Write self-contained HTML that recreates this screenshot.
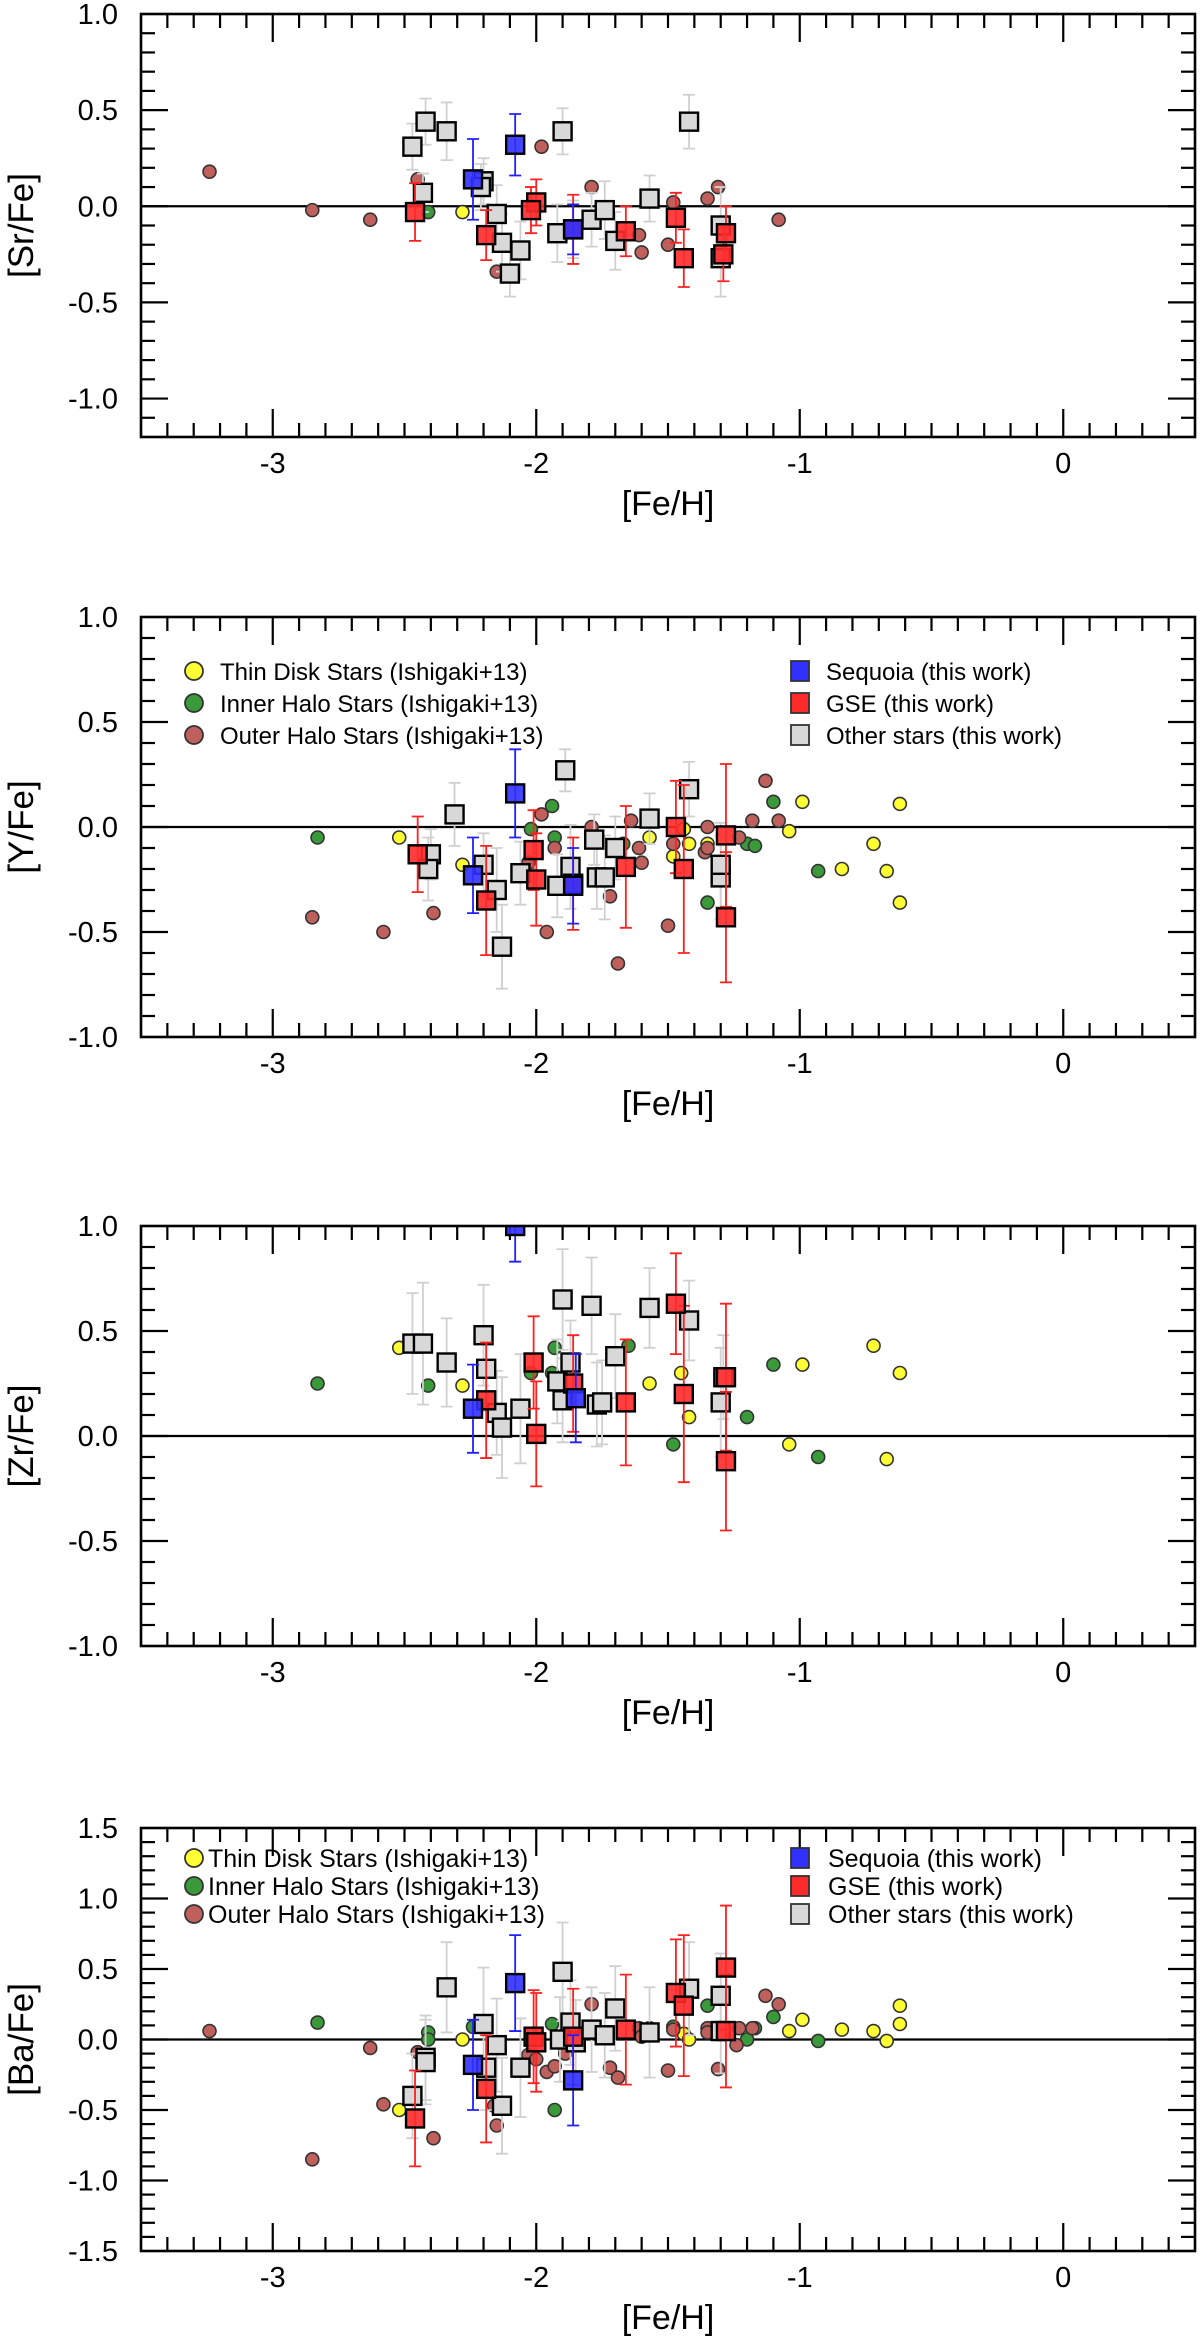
<!DOCTYPE html>
<html><head><meta charset="utf-8"><title>Abundance ratios vs [Fe/H]</title>
<style>
html,body{margin:0;padding:0;background:#fff;}
svg{display:block;font-family:"Liberation Sans",Arial,sans-serif;}
</style></head>
<body>
<svg id="chart" width="1200" height="2338" viewBox="0 0 1200 2338" xmlns="http://www.w3.org/2000/svg"></svg>
<script>
// ---------- shared axis data ----------
const xTickLabels = [-3, -2, -1, 0];
const xMin = -3.5, xMax = 0.5;
const yTitles = ["[Sr/Fe]", "[Y/Fe]", "[Zr/Fe]", "[Ba/Fe]"];
const yRanges = [[-1.2, 1.0], [-1.0, 1.0], [-1.0, 1.0], [-1.5, 1.5]];
const yTickLabels = [
  ["-1.0","-0.5","0.0","0.5","1.0"],
  ["-1.0","-0.5","0.0","0.5","1.0"],
  ["-1.0","-0.5","0.0","0.5","1.0"],
  ["-1.5","-1.0","-0.5","0.0","0.5","1.0","1.5"]
];
const panelNames = ["sr","y","zr","ba"];

// ---------- Panel 1: [Sr/Fe] ----------
const srThin = [[-2.28,-0.03]];
const srInner = [[-2.41,-0.03]];
const srOuter = [[-3.24,0.18],[-2.85,-0.02],[-2.63,-0.07],[-2.45,0.14],[-1.98,0.31],[-2.15,-0.34],[-1.79,0.10],[-1.61,-0.15],[-1.60,-0.24],[-1.50,-0.20],[-1.48,0.02],[-1.35,0.04],[-1.31,0.10],[-1.08,-0.07]];
const srOther = [[-2.47,0.31,0.12],[-2.42,0.44,0.12],[-2.34,0.39,0.15],[-2.43,0.07,0.10],[-2.20,0.13,0.12],[-2.21,0.10,0.12],[-2.15,-0.04,0.15],[-2.13,-0.19,0.15],[-2.06,-0.23,0.15],[-2.10,-0.35,0.12],[-1.90,0.39,0.12],[-1.92,-0.14,0.15],[-1.86,-0.12,0.15],[-1.79,-0.07,0.14],[-1.74,-0.02,0.15],[-1.70,-0.18,0.15],[-1.57,0.04,0.12],[-1.42,0.44,0.14],[-1.30,-0.10,0.20],[-1.30,-0.27,0.20]];
const srGse = [[-2.46,-0.03,0.15],[-2.19,-0.15,0.13],[-2.00,0.02,0.12],[-2.02,-0.02,0.12],[-1.86,-0.12,0.18],[-1.66,-0.13,0.13],[-1.47,-0.06,0.13],[-1.44,-0.27,0.15],[-1.28,-0.14,0.14],[-1.29,-0.25,0.14]];
const srSeq = [[-2.24,0.14,0.21],[-2.08,0.32,0.16],[-1.86,-0.12,0.13]];

// ---------- Panel 2: [Y/Fe] ----------
const yThin = [[-2.52,-0.05],[-2.28,-0.18],[-1.57,-0.05],[-1.42,-0.08],[-1.48,-0.14],[-1.44,-0.01],[-1.35,-0.08],[-0.99,0.12],[-1.04,-0.02],[-0.84,-0.20],[-0.72,-0.08],[-0.67,-0.21],[-0.62,0.11],[-0.62,-0.36]];
const yInner = [[-2.83,-0.05],[-2.40,-0.13],[-2.40,-0.18],[-1.94,0.10],[-2.02,-0.01],[-1.93,-0.05],[-1.67,-0.08],[-1.35,-0.36],[-1.20,-0.08],[-1.17,-0.09],[-1.10,0.12],[-0.93,-0.21]];
const yOuter = [[-2.85,-0.43],[-2.58,-0.50],[-2.39,-0.41],[-1.98,0.06],[-1.93,-0.10],[-1.96,-0.50],[-1.79,0.00],[-2.03,-0.17],[-1.64,0.03],[-1.61,-0.10],[-1.60,-0.17],[-1.72,-0.33],[-1.69,-0.65],[-1.50,-0.47],[-1.48,-0.08],[-1.35,0.00],[-1.36,-0.12],[-1.35,-0.10],[-1.31,-0.17],[-1.23,-0.05],[-1.18,0.03],[-1.13,0.22],[-1.08,0.03]];
const yOther = [[-2.31,0.06,0.15],[-2.40,-0.13,0.12],[-2.41,-0.20,0.15],[-2.20,-0.18,0.15],[-2.15,-0.30,0.20],[-2.13,-0.57,0.20],[-2.06,-0.22,0.15],[-1.92,-0.28,0.15],[-1.87,-0.19,0.20],[-1.89,0.27,0.10],[-1.78,-0.06,0.12],[-1.77,-0.24,0.15],[-1.70,-0.10,0.15],[-1.74,-0.24,0.20],[-1.57,0.04,0.12],[-1.42,0.18,0.13],[-1.30,-0.24,0.20],[-1.30,-0.18,0.20]];
const yGse = [[-2.45,-0.13,0.18],[-2.19,-0.35,0.26],[-2.01,-0.11,0.19],[-2.00,-0.25,0.22],[-1.86,-0.27,0.22],[-1.66,-0.19,0.29],[-1.47,0.00,0.22],[-1.44,-0.20,0.40],[-1.28,-0.04,0.34],[-1.28,-0.43,0.31]];
const ySeq = [[-2.24,-0.23,0.18],[-2.08,0.16,0.21],[-1.86,-0.28,0.18]];

// ---------- Panel 3: [Zr/Fe] ----------
const zrThin = [[-2.52,0.42],[-2.28,0.24],[-1.57,0.25],[-1.45,0.30],[-1.42,0.09],[-1.04,-0.04],[-0.99,0.34],[-0.72,0.43],[-0.62,0.30],[-0.67,-0.11]];
const zrInner = [[-2.83,0.25],[-2.41,0.24],[-1.93,0.42],[-2.02,0.30],[-1.94,0.30],[-1.65,0.43],[-1.48,-0.04],[-1.20,0.09],[-1.10,0.34],[-0.93,-0.10]];
const zrOuter = [];
const zrOther = [[-2.47,0.44,0.24],[-2.43,0.44,0.29],[-2.34,0.35,0.21],[-2.20,0.48,0.24],[-2.19,0.32,0.20],[-2.15,0.11,0.20],[-2.13,0.04,0.24],[-2.06,0.13,0.26],[-1.90,0.65,0.24],[-1.79,0.62,0.23],[-1.92,0.26,0.20],[-1.87,0.35,0.20],[-1.90,0.17,0.20],[-1.77,0.15,0.20],[-1.70,0.38,0.20],[-1.75,0.16,0.20],[-1.57,0.61,0.19],[-1.42,0.55,0.19],[-1.30,0.16,0.26],[-1.29,0.28,0.20]];
const zrGse = [[-2.19,0.17,0.275],[-2.01,0.35,0.22],[-2.00,0.01,0.25],[-1.86,0.25,0.23],[-1.66,0.16,0.30],[-1.47,0.63,0.24],[-1.44,0.20,0.42],[-1.28,0.28,0.35],[-1.28,-0.12,0.33]];
const zrSeq = [[-2.24,0.13,0.21],[-2.08,1.00,0.17],[-1.85,0.18,0.21]];

// ---------- Panel 4: [Ba/Fe] ----------
const baThin = [[-2.52,-0.50],[-2.28,0.00],[-1.57,0.08],[-1.44,0.04],[-1.42,0.00],[-1.04,0.06],[-0.99,0.14],[-0.84,0.07],[-0.72,0.06],[-0.67,-0.01],[-0.62,0.24],[-0.62,0.11]];
const baInner = [[-2.83,0.12],[-2.41,0.05],[-2.41,0.00],[-2.24,0.09],[-1.94,0.11],[-1.93,-0.50],[-1.48,0.09],[-1.35,0.24],[-1.20,0.00],[-1.17,0.08],[-1.10,0.16],[-0.93,-0.01]];
const baOuter = [[-3.24,0.06],[-2.85,-0.85],[-2.63,-0.06],[-2.58,-0.46],[-2.45,-0.09],[-2.39,-0.70],[-2.16,-0.47],[-2.15,-0.61],[-2.03,-0.11],[-2.00,-0.14],[-1.96,-0.23],[-1.93,-0.19],[-1.89,-0.06],[-1.89,-0.10],[-1.79,0.25],[-1.61,0.08],[-1.60,0.02],[-1.72,-0.20],[-1.69,-0.27],[-1.50,-0.22],[-1.48,0.07],[-1.35,0.08],[-1.35,0.05],[-1.31,-0.21],[-1.23,0.08],[-1.24,-0.04],[-1.18,0.08],[-1.13,0.31],[-1.08,0.25]];
const baOther = [[-2.34,0.37,0.32],[-2.47,-0.40,0.30],[-2.42,-0.13,0.30],[-2.42,-0.16,0.30],[-2.20,0.11,0.40],[-2.15,-0.04,0.33],[-2.19,-0.20,0.30],[-2.13,-0.47,0.34],[-2.06,-0.20,0.35],[-1.90,0.48,0.35],[-1.87,0.12,0.30],[-1.91,0.00,0.30],[-1.85,-0.02,0.30],[-1.79,0.07,0.30],[-1.70,0.22,0.30],[-1.74,0.03,0.30],[-1.57,0.05,0.32],[-1.42,0.36,0.33],[-1.30,0.31,0.30],[-1.30,0.06,0.30]];
const baGse = [[-2.46,-0.56,0.34],[-2.19,-0.35,0.38],[-2.01,0.02,0.33],[-2.00,-0.02,0.35],[-1.86,0.02,0.34],[-1.66,0.07,0.39],[-1.47,0.33,0.38],[-1.44,0.24,0.50],[-1.28,0.51,0.44],[-1.28,0.06,0.40]];
const baSeq = [[-2.08,0.40,0.34],[-2.24,-0.18,0.32],[-1.86,-0.29,0.32]];

// ---------- legend labels ----------
const legendCircleLabels = ["Thin Disk Stars (Ishigaki+13)","Inner Halo Stars (Ishigaki+13)","Outer Halo Stars (Ishigaki+13)"];
const legendSquareLabels = ["Sequoia (this work)","GSE (this work)","Other stars (this work)"];

// ---------- rendering ----------
const NS = "http://www.w3.org/2000/svg";
const svg = document.getElementById("chart");
const L = 141, R = 1195;
const panelTops = [14, 617, 1226, 1828];
const panelBottoms = [437, 1037, 1646, 2251];
const COL = {thin:"#ffff33", inner:"#3a9a3a", outer:"#c0605c", seq:"#3030ff", gse:"#ff2a2a", other:"#d8d8d8"};

function mk(tag, attrs, parent){
  const e = document.createElementNS(NS, tag);
  for (const k in attrs) e.setAttribute(k, attrs[k]);
  (parent || svg).appendChild(e);
  return e;
}
function xs(v){ return L + (v - xMin) / (xMax - xMin) * (R - L); }

const allSets = [
  {thin:srThin, inner:srInner, outer:srOuter, other:srOther, gse:srGse, seq:srSeq},
  {thin:yThin, inner:yInner, outer:yOuter, other:yOther, gse:yGse, seq:ySeq},
  {thin:zrThin, inner:zrInner, outer:zrOuter, other:zrOther, gse:zrGse, seq:zrSeq},
  {thin:baThin, inner:baInner, outer:baOuter, other:baOther, gse:baGse, seq:baSeq}
];

for (let p = 0; p < 4; p++){
  const top = panelTops[p], bot = panelBottoms[p];
  const ymin = yRanges[p][0], ymax = yRanges[p][1];
  const ys = v => top + (ymax - v) / (ymax - ymin) * (bot - top);
  const g = mk("g", {});
  
  

  const clipId = "clip" + p;
  const cp = mk("clipPath", {id: clipId}, g);
  mk("rect", {x: L, y: top, width: R - L, height: bot - top}, cp);

  // zero line
  const zl = mk("line", {x1: L, x2: R, y1: ys(0), y2: ys(0), stroke: "#000", "stroke-width": 2.2}, g);
  
  

  // ticks
  const tg = mk("g", {stroke: "#000", "stroke-width": 2.2}, g);
  
  
  for (let i = Math.round(xMin * 10) + 1; i < Math.round(xMax * 10); i++){
    const major = i % 10 === 0;
    const len = major ? 28 : 14;
    const x = xs(i / 10);
    mk("line", {x1: x, x2: x, y1: top, y2: top + len}, tg);
    mk("line", {x1: x, x2: x, y1: bot, y2: bot - len}, tg);
  }
  for (let i = Math.round(ymin * 10) + 1; i < Math.round(ymax * 10); i++){
    const major = i % 5 === 0;
    const len = major ? 27 : 14;
    const y = ys(i / 10);
    mk("line", {x1: L, x2: L + len, y1: y, y2: y}, tg);
    mk("line", {x1: R, x2: R - len, y1: y, y2: y}, tg);
  }

  // y tick labels
  yTickLabels[p].forEach(lbl => {
    const t = mk("text", {x: 118, y: ys(parseFloat(lbl)) + 10, "text-anchor": "end", "font-size": 29, fill: "#000"}, g);
    t.textContent = lbl;
    
    
  });
  // x tick labels
  xTickLabels.forEach(v => {
    const t = mk("text", {x: xs(v), y: bot + 36, "text-anchor": "middle", "font-size": 29, fill: "#000"}, g);
    t.textContent = String(v);
    
    
  });
  // axis titles
  const xt = mk("text", {x: (L + R) / 2, y: bot + 78, "text-anchor": "middle", "font-size": 34, fill: "#000"}, g);
  xt.textContent = "[Fe/H]";
  
  
  const cy = (top + bot) / 2;
  const yt = mk("text", {x: 0, y: 0, "text-anchor": "middle", "font-size": 35, fill: "#000", transform: "translate(33," + cy + ") rotate(-90)"}, g);
  yt.textContent = yTitles[p];
  
  

  // data
  const dg = mk("g", {"clip-path": "url(#" + clipId + ")"}, g);
  
  
  const S = allSets[p];
  ["thin", "inner", "outer"].forEach(k => {
    S[k].forEach(d => {
      const c = mk("circle", {cx: xs(d[0]), cy: ys(d[1]), r: 6.5, fill: COL[k], stroke: "#333", "stroke-width": 1.6}, dg);
      
      
    });
  });
  const errColor = {other: "#d0d0d0", gse: "#ff2020", seq: "#2020ff"};
  ["other", "gse", "seq"].forEach(k => {
    S[k].forEach(d => {
      const x = xs(d[0]), y1 = ys(d[1] + d[2]), y2 = ys(d[1] - d[2]);
      const eb = mk("path", {d: "M" + x + " " + y1 + "V" + y2 + "M" + (x - 6) + " " + y1 + "H" + (x + 6) + "M" + (x - 6) + " " + y2 + "H" + (x + 6), stroke: errColor[k], "stroke-width": 1.8, fill: "none"}, dg);
      
      
    });
    S[k].forEach(d => {
      const sq = mk("rect", {x: xs(d[0]) - 9, y: ys(d[1]) - 9, width: 18, height: 18, fill: COL[k], "fill-opacity": k === "other" ? 1 : 0.9, stroke: "#000", "stroke-width": 2.4}, dg);
      
      
    });
  });

  // frame
  const fr = mk("rect", {x: L, y: top, width: R - L, height: bot - top, fill: "none", stroke: "#000", "stroke-width": 2.6}, g);
  
  
}

// legends
function legend(rows, circX, textX, sqX, sqTextX, fs){
  const lg = mk("g", {});
  
  
  const ck = ["thin", "inner", "outer"], sk = ["seq", "gse", "other"];
  rows.forEach((y, i) => {
    const c = mk("circle", {cx: circX, cy: y, r: 9, fill: COL[ck[i]], stroke: "#333", "stroke-width": 1.8}, lg);
    
    
    const t = mk("text", {x: textX, y: y + 9, "font-size": fs, fill: "#000"}, lg);
    t.textContent = legendCircleLabels[i];
    
    
    const s = mk("rect", {x: sqX - 9, y: y - 10, width: 18, height: 20, fill: COL[sk[i]], stroke: "#333", "stroke-width": 1.8}, lg);
    
    
    const t2 = mk("text", {x: sqTextX, y: y + 9, "font-size": fs, fill: "#000"}, lg);
    t2.textContent = legendSquareLabels[i];
    
    
  });
}
legend([671, 703, 735], 194, 220, 800, 826, 24);
legend([1858, 1886, 1914], 194, 208, 800, 828, 25);
</script>
</body></html>
